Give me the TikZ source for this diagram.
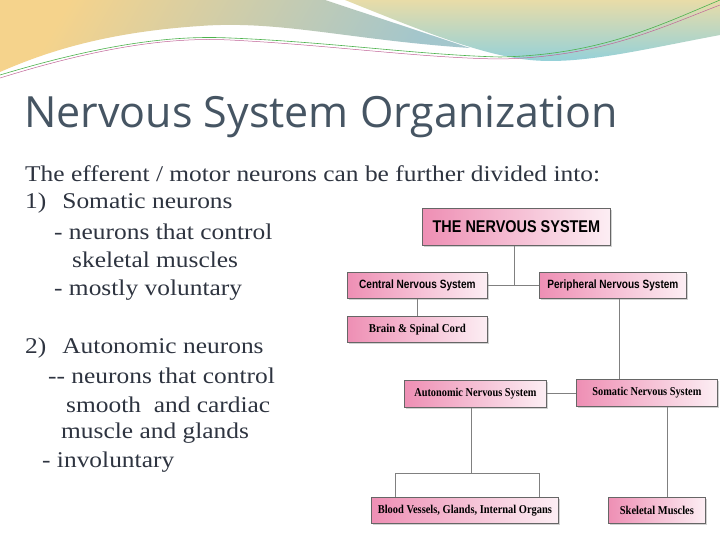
\documentclass[tikz,border=0pt]{standalone}
\usepackage{fontspec}
\usepackage{graphicx}
\setmainfont{Liberation Serif}
\newfontfamily\bodyfont[FakeStretch=1.13]{Liberation Serif}
\newfontfamily\titlefont{Open Sans}
\newfontfamily\boxsans{Liberation Sans}
\usetikzlibrary{shadows}
\definecolor{titlecol}{HTML}{465563}
\definecolor{bodycol}{HTML}{2E3440}
\definecolor{pinkbox}{HTML}{EE8FB4}
\definecolor{bannerA}{HTML}{A3C6CC}
\definecolor{bannerO}{HTML}{F5D38C}
\definecolor{bannerB}{HTML}{E8DCA8}
\definecolor{bannerC}{HTML}{8FD0DC}
\tikzset{
  pbox/.style={draw=black!60, line width=0.8pt, left color=pinkbox, right color=pinkbox!15,
    drop shadow={shadow xshift=1.2pt, shadow yshift=-1.2pt, fill=black!35},
    minimum height=26pt, inner sep=0pt, anchor=north west, align=center},
  conn/.style={draw=black!50, line width=0.9pt},
  body/.style={anchor=west, inner sep=0pt, font=\bodyfont\fontsize{22.5}{24}\selectfont, text=bodycol}
}
\begin{document}
\begin{tikzpicture}[x=1pt,y=-1pt]
\useasboundingbox (0,0) rectangle (720,540);
\fill[white] (0,0) rectangle (720,540);
% banner
\shade[left color=bannerO, right color=bannerA, shading angle=60]
  (0,0) -- (325,0) -- (470,48) .. controls (350,40) and (280,20) .. (200,26)
  .. controls (110,32) and (50,50) .. (0,72) -- cycle;
\shade[top color=bannerB, bottom color=bannerC]
  (345,0) -- (720,0) -- (720,35) .. controls (640,50) and (580,65) .. (530,60)
  .. controls (480,55) and (420,30) .. (345,0) -- cycle;
\draw[color=gray!60!green, line width=0.6pt] (0,75) .. controls (100,45) and (170,35) .. (230,38)
  .. controls (330,42) and (420,55) .. (500,57) .. controls (600,55) and (660,25) .. (720,0);
\draw[color=gray!50!magenta, line width=0.5pt] (0,78) .. controls (100,47) and (170,37) .. (230,40)
  .. controls (330,45) and (420,58) .. (500,59) .. controls (600,57) and (660,28) .. (720,5);
% title
\node[anchor=west, inner sep=0pt, text=titlecol, font=\titlefont\fontsize{43}{46}\selectfont] (title) at (24,117) {Nervous System Organization};
% body
\node[body] (l1) at (25,174) {The efferent / motor neurons can be further divided into:};
\node[body] (l2) at (25,203) {1)\hspace{16pt}Somatic neurons};
\node[body] (l3) at (54,232) {- neurons that control};
\node[body] (l4) at (72,260) {skeletal muscles};
\node[body] (l5) at (54,290) {- mostly voluntary};
\node[body] (l6) at (25,348) {2)\hspace{16pt}Autonomic neurons};
\node[body] (l7) at (48,376) {{-}{-} neurons that control};
\node[body] (l8) at (66,405) {smooth\ \ and cardiac};
\node[body] (l9) at (61,433) {muscle and glands};
\node[body] (l10) at (42,462) {- involuntary};
% diagram
\fill[white] (335,190) rectangle (720,540);
\node[pbox, minimum width=188pt, minimum height=37pt, font=\boxsans\bfseries\fontsize{17}{18}\selectfont] (ns) at (422,208) {\scalebox{0.85}[1]{THE NERVOUS SYSTEM}};
\node[pbox, minimum width=140pt, font=\boxsans\bfseries\fontsize{12}{13}\selectfont] (cns) at (347,272) {\scalebox{0.84}[1]{Central Nervous System}};
\node[pbox, minimum width=147pt, font=\boxsans\bfseries\fontsize{12}{13}\selectfont] (pns) at (539,272) {\scalebox{0.84}[1]{Peripheral Nervous System}};
\node[pbox, minimum width=140pt, font=\bfseries\fontsize{12}{13}\selectfont] (brain) at (347,316) {\scalebox{0.9}[1]{Brain \& Spinal Cord}};
\node[pbox, minimum width=142pt, minimum height=27pt, font=\bfseries\fontsize{12}{13}\selectfont] (ans) at (404,380) {\scalebox{0.86}[1]{Autonomic Nervous System}};
\node[pbox, minimum width=141pt, minimum height=27pt, font=\bfseries\fontsize{12}{13}\selectfont] (sns) at (576,379) {\scalebox{0.86}[1]{Somatic Nervous System}};
\node[pbox, minimum width=187pt, font=\bfseries\fontsize{12}{13}\selectfont] (bv) at (371,497) {\scalebox{0.87}[1]{Blood Vessels, Glands, Internal Organs}};
\node[pbox, minimum width=97pt, font=\bfseries\fontsize{12}{13}\selectfont] (sk) at (608,497) {\scalebox{0.87}[1]{Skeletal Muscles}};
\coordinate (j1) at (514,285);
\coordinate (j2) at (471,473);
\draw[conn] (ns.south -| j1) -- (j1);
\draw[conn] (cns.east) -- (pns.west);
\draw[conn] (cns.south) -- (cns.south |- brain.north);
\draw[conn] (pns.south -| 619,0) -- (sns.north -| 619,0);
\draw[conn] (ans.east) -- (ans.east -| sns.west);
\draw[conn] (ans.south -| j2) -- (j2);
\draw[conn] (bv.north -| 395,0) -- (395,473) -- (539,473) -- (bv.north -| 539,0);
\draw[conn] (sns.south -| 667,0) -- (sk.north -| 667,0);
\end{tikzpicture}
\end{document}
